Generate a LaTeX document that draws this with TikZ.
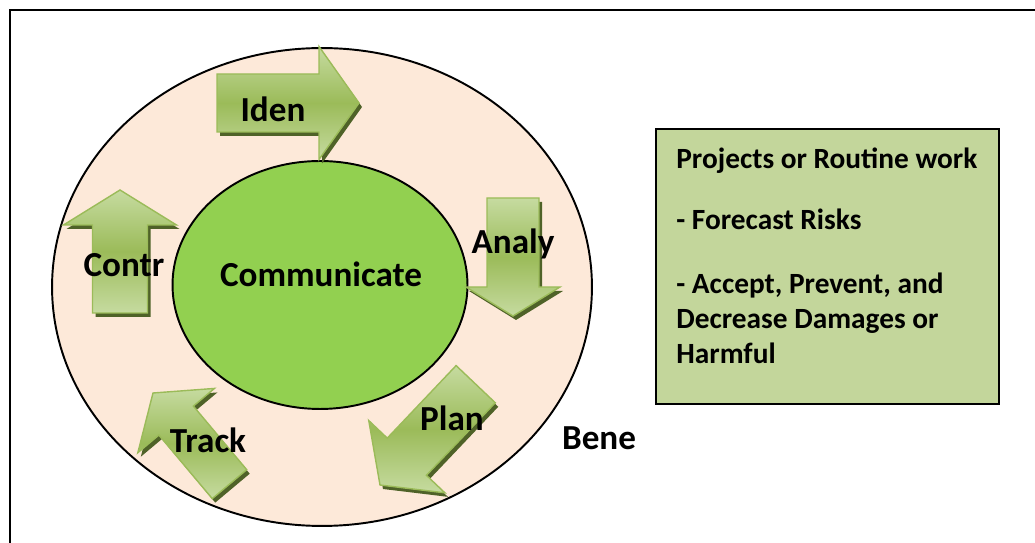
\documentclass[tikz,border=0pt]{standalone}
\usepackage{fontspec}
\setmainfont{Carlito}
\usetikzlibrary{positioning, shapes.geometric}

\definecolor{ringfill}{HTML}{FDE9D9}
\definecolor{corefill}{HTML}{92D050}
\definecolor{notefill}{HTML}{C3D69B}
\definecolor{arrowlight}{HTML}{C6DBA0}
\definecolor{arrowmid}{HTML}{9BBB59}
\definecolor{arrowedge}{HTML}{9BBB59}
\definecolor{arrowshade}{HTML}{4F6228}

% block arrow: name, tip, direction, length, half shaft, half head, head length
\newcommand{\stagearrow}[7]{%
  \begin{scope}[shift={#2}, shift={(3,4)}, rotate=#3]
    \fill[arrowshade] (0,0) -- (-#7,#6) -- (-#7,#5) -- (-#4,#5) -- (-#4,-#5) -- (-#7,-#5) -- (-#7,-#6) -- cycle;
  \end{scope}
  \begin{scope}[shift={#2}, rotate=#3]
    \draw[stage] (0,0) -- (-#7,#6) -- (-#7,#5) -- (-#4,#5) -- (-#4,-#5) -- (-#7,-#5) -- (-#7,-#6) -- cycle;
    \coordinate (#1) at (-#4/2,0);
  \end{scope}}

\begin{document}
\begin{tikzpicture}[
    x=0.02cm, y=-0.02cm,
    ring/.style={draw, ellipse, fill=ringfill, line width=1.1pt, inner sep=0pt},
    stage/.style={draw=arrowedge, line width=0.8pt, line join=miter,
      top color=arrowlight, bottom color=arrowlight, middle color=arrowmid},
    word/.style={font=\fontsize{20}{24}\selectfont\bfseries, anchor=base, inner sep=0pt},
    notetext/.style={font=\fontsize{16.7}{20}\selectfont\bfseries, align=left, inner sep=0pt, anchor=north west}
  ]
  \useasboundingbox (0,0) rectangle (1035,543);
  \clip (0,0) rectangle (1035,543);
  \draw[line width=1.2pt] (10,10) rectangle (1060,570);

  % rings
  \node[ring, minimum width=10.8cm, minimum height=9.56cm] (outer) at (322,287) {};
  \node[ring, fill=corefill, minimum width=5.9cm, minimum height=4.96cm] (core) at (320,285) {};

  % arrows round the core
  \stagearrow{iden}{(359,103)}{0}{142}{29}{56.5}{40}
  \stagearrow{analy}{(513,316)}{-90}{118}{26}{47}{29}
  \stagearrow{plan}{(380,485)}{226.5}{139}{27}{52.5}{39}
  \stagearrow{track}{(153,393)}{130}{119}{22.5}{50}{36}
  \stagearrow{contr}{(120,190)}{90}{123}{27.5}{56.5}{35}

  % words
  \node[word] (comm) at (321,287) {Communicate};
  \node[word] (idenlabel) at (273,122) {Iden};
  \node[word] (analylabel) at (513,254) {Analy};
  \node[word] (planlabel) at (452,431) {Plan};
  \node[word] (tracklabel) at (208,453) {Track};
  \node[word] (contrlabel) at (124,277) {Contr};
  \node[word] (bene) at (599,450) {Bene};

  % side note
  \node[draw, fill=notefill, line width=1.1pt, minimum width=6.86cm, minimum height=5.5cm, anchor=north west] (note) at (655,128) {};
  \node[notetext] (notes) at (676,148) {Projects or Routine work\\[14.6pt]
    - Forecast Risks\\[16.3pt]
    - Accept, Prevent, and\\
    Decrease Damages or\\
    Harmful};
\end{tikzpicture}
\end{document}
